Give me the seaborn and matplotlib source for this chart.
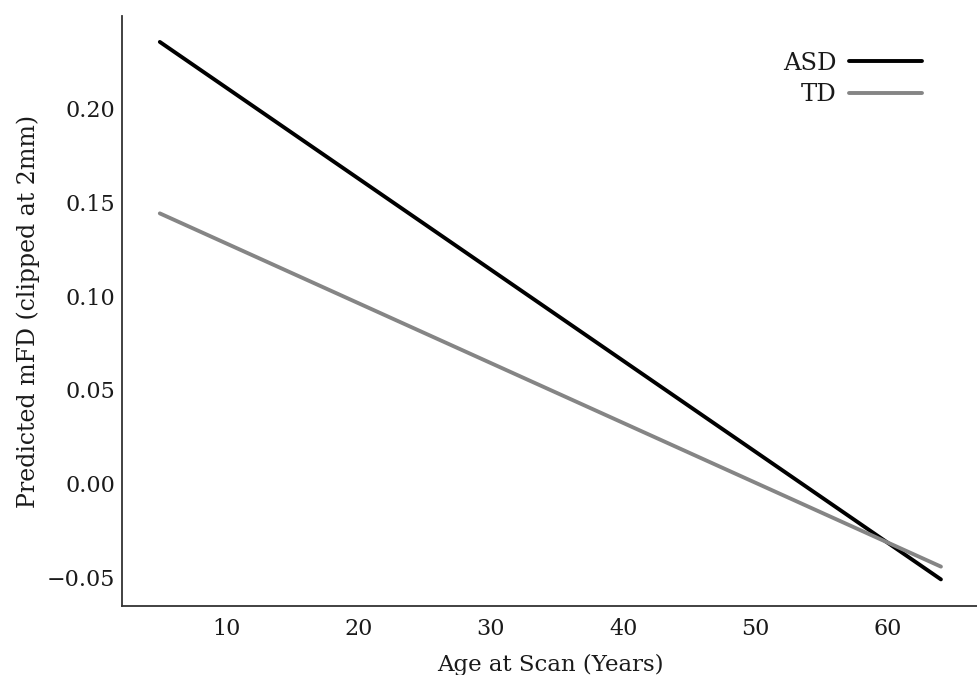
import pandas as pd
import matplotlib
matplotlib.use("Agg")
import matplotlib.pyplot as plt
import seaborn as sns

# model predictions at the ends of the age range
groups = ["ASD", "ASD", "TD", "TD"]
age = [5.0, 64.0, 5.0, 64.0]
mfd = [0.2353, -0.0509, 0.1440, -0.0441]

df = pd.DataFrame({"group": groups, "age": age, "mfd": mfd})

sns.set_style("white")
plt.rcParams["font.family"] = ["DejaVu Serif"]

fig = plt.figure(figsize=(9.78, 6.75), dpi=100)
ax = fig.add_axes([0.1247, 0.1027, 0.8753, 0.8733])

sns.lineplot(data=df, x="age", y="mfd", hue="group",
             palette={"ASD": "black", "TD": "#858585"},
             linewidth=2.8, ax=ax)

ax.set_xlim(2.14, 66.8)
ax.set_ylim(-0.0649, 0.249)
ax.set_xticks([10, 20, 30, 40, 50, 60])
ax.set_yticks([-0.05, 0.0, 0.05, 0.10, 0.15, 0.20])
ax.set_yticklabels(["\u22120.05", "0.00", "0.05", "0.10", "0.15", "0.20"])
ax.tick_params(direction="in", length=4, width=1, labelsize=16, colors="#222222",
               labelcolor="#1a1a1a")
ax.tick_params(axis="x", pad=9)
ax.tick_params(axis="y", pad=5)
ax.set_xlabel("Age at Scan (Years)", fontsize=16.5, labelpad=10, color="#1a1a1a")
ax.set_ylabel("Predicted mFD (clipped at 2mm)", fontsize=17, labelpad=5, color="#1a1a1a")

sns.despine(ax=ax)
for s in ["left", "bottom"]:
    ax.spines[s].set_color("#333333")
    ax.spines[s].set_linewidth(1.3)

leg = ax.legend(title=None, frameon=False, markerfirst=False, fontsize=17.5,
                loc="upper right", bbox_to_anchor=(0.96, 0.977),
                handlelength=3.0, handletextpad=0.5, labelspacing=0.35)
for t in leg.get_texts():
    t.set_color("#1a1a1a")

fig.savefig("out.png", dpi=100)
